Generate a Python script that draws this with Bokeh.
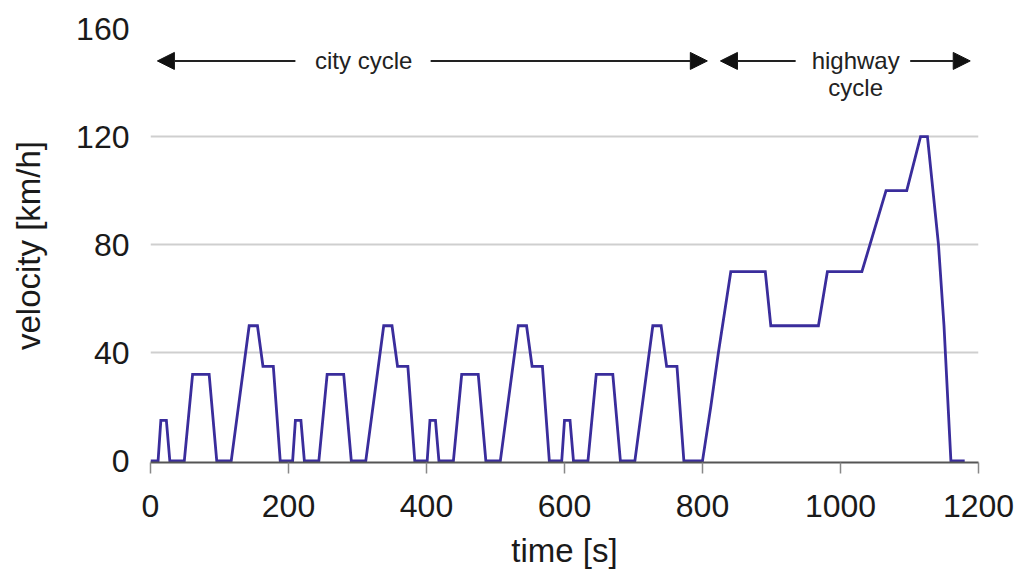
from bokeh.plotting import figure
from bokeh.models import Range1d, FixedTicker, Arrow, NormalHead, Label
from bokeh.embed import file_html
from bokeh.resources import INLINE

# NEDC-like driving cycle
time_s = [0, 11, 15, 23, 28, 49, 61, 85, 96, 117, 143, 155, 163, 178, 188,
          195, 206, 210, 218, 223, 244, 256, 280, 291, 312, 338, 350, 358, 373, 383,
          390, 401, 405, 413, 418, 439, 451, 475, 486, 507, 533, 545, 553, 568, 578,
          585, 596, 600, 608, 613, 634, 646, 670, 681, 702, 728, 740, 748, 763, 773,
          800, 812, 823, 832, 841, 891, 899, 968, 981, 1031, 1066, 1096, 1116, 1126, 1142, 1150, 1160, 1180]
velocity_kmh = [0, 0, 15, 15, 0, 0, 32, 32, 0, 0, 50, 50, 35, 35, 0,
                0, 0, 15, 15, 0, 0, 32, 32, 0, 0, 50, 50, 35, 35, 0,
                0, 0, 15, 15, 0, 0, 32, 32, 0, 0, 50, 50, 35, 35, 0,
                0, 0, 15, 15, 0, 0, 32, 32, 0, 0, 50, 50, 35, 35, 0,
                0, 20, 40, 55, 70, 70, 50, 50, 70, 70, 100, 100, 120, 120, 80, 50, 0, 0]

x_ticks = [0, 200, 400, 600, 800, 1000, 1200]
y_ticks = [0, 40, 80, 120, 160]

FONT = "Liberation Sans"
TXT = "#1a1a1a"

p = figure(width=1018, height=572, output_backend="svg", toolbar_location=None,
           x_range=Range1d(0, 1200), y_range=Range1d(-0.6, 160),
           min_border_left=150, min_border_right=40, min_border_top=28, min_border_bottom=110)
p.outline_line_color = None
p.background_fill_color = "white"

p.xgrid.visible = False
p.ygrid.ticker = FixedTicker(ticks=[40, 80, 120, 160])
p.ygrid.grid_line_color = "#cfcfcf"
p.ygrid.grid_line_width = 2

p.xaxis.ticker = FixedTicker(ticks=x_ticks)
p.yaxis.ticker = FixedTicker(ticks=y_ticks)
p.xaxis.axis_label = "time [s]"
p.yaxis.axis_label = "velocity [km/h]"

for ax in (p.xaxis[0], p.yaxis[0]):
    ax.major_label_text_font = FONT
    ax.major_label_text_font_size = "32px"
    ax.major_label_text_color = TXT
    ax.axis_label_text_font = FONT
    ax.axis_label_text_font_size = "33px"
    ax.axis_label_text_font_style = "normal"
    ax.axis_label_text_color = TXT
    ax.minor_tick_line_color = None

p.xaxis.axis_line_color = "#555555"
p.xaxis.axis_line_width = 2
p.xaxis.major_tick_line_color = "#888888"
p.xaxis.major_tick_line_width = 1.5
p.xaxis.major_tick_in = 0
p.xaxis.major_tick_out = 11
p.xaxis.major_label_standoff = 21
p.xaxis.axis_label_standoff = 12

p.yaxis.axis_line_color = None
p.yaxis.major_tick_line_color = None
p.yaxis.major_label_standoff = 15
p.yaxis.axis_label_standoff = 26

p.line(time_s, velocity_kmh, line_color="#3a2d9c", line_width=2.8, line_join="miter")

# cycle annotations
ay = 148
head = dict(size=17, fill_color="#111111", line_color="#111111")
for xs, xe in [(210, 10), (406, 807), (935, 826), (1101, 1188)]:
    p.add_layout(Arrow(end=NormalHead(**head), x_start=xs, y_start=ay, x_end=xe, y_end=ay,
                       line_color="#222222", line_width=2))

def lab(text, x, yoff=0):
    p.add_layout(Label(x=x, y=ay, y_offset=yoff, text=text, text_font=FONT, text_font_size="24px",
                       text_color="#222222", text_align="center", text_baseline="middle"))

lab("city cycle", 309)
lab("highway", 1022)
lab("cycle", 1022, -27)

open("out.html", "w").write(file_html(p, INLINE))
